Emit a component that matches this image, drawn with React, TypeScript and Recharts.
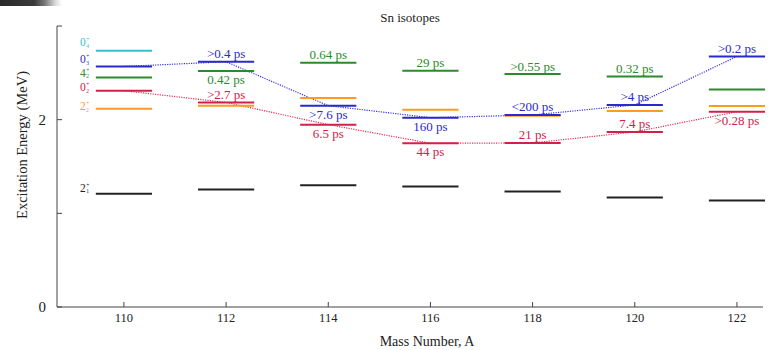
import React from "react";
import { ComposedChart, Line, XAxis, YAxis, ReferenceLine } from "recharts";

// Sn isotope level energies (MeV)
const masses = [110, 112, 114, 116, 118, 120, 122];
const e2p1 = [1.208, 1.254, 1.3, 1.286, 1.233, 1.169, 1.137];
const e2p2 = [2.117, 2.149, 2.231, 2.107, 2.043, 2.093, 2.146];
const e0p2 = [2.309, 2.184, 1.947, 1.748, 1.752, 1.869, 2.085];
const e4p2 = [2.451, 2.519, 2.607, 2.522, 2.487, 2.462, 2.323];
const e0p3 = [2.568, 2.618, 2.149, 2.021, 2.05, 2.157, 2.675];
const e0p4 = [2.735, null, null, null, null, null, null];

// lifetimes printed next to the levels
const tau0p2 = [null, ">2.7 ps", "6.5 ps", "44 ps", "21 ps", "7.4 ps", ">0.28 ps"];
const tau4p2 = [null, "0.42 ps", "0.64 ps", "29 ps", ">0.55 ps", "0.32 ps", null];
const tau0p3 = [null, ">0.4 ps", ">7.6 ps", "160 ps", "<200 ps", ">4 ps", ">0.2 ps"];

const xTicks = [110, 112, 114, 116, 118, 120, 122];
const yTicks = [0, 1, 2, 3];
const yLabelled = [0, 2];

const HALF = 0.55;
const FONT = "'Liberation Serif', 'DejaVu Serif', serif";

type State = {
  n: string; sub: string; color: string; dy: number;
  energies: (number | null)[]; taus: (string | null)[] | null; below: number[];
};

// dy = baseline shift of the state name relative to its level line
const states: State[] = [
  { n: "2", sub: "1", color: "#222222", dy: -2, energies: e2p1, taus: null, below: [] },
  { n: "2", sub: "2", color: "#ff9a22", dy: 1.5, energies: e2p2, taus: null, below: [] },
  { n: "0", sub: "2", color: "#d2204a", dy: 0.5, energies: e0p2, taus: tau0p2, below: [114, 116, 122] },
  { n: "4", sub: "2", color: "#2b8a2b", dy: -0.8, energies: e4p2, taus: tau4p2, below: [112] },
  { n: "0", sub: "3", color: "#2a2acc", dy: -3, energies: e0p3, taus: tau0p3, below: [114, 116] },
  { n: "0", sub: "4", color: "#33bfd0", dy: -4.5, energies: e0p4, taus: null, below: [] },
];

const blueTrail = masses.map((a, i) => ({ a, e: e0p3[i] }));
const redTrail = masses.map((a, i) => ({ a, e: e0p2[i] }));

function LevelLabel(props: any) {
  const { viewBox, tau, below, color, state } = props;
  const vb = viewBox ?? props;
  const cx = vb.x + vb.width / 2;
  const y = vb.y;
  const b = state ? y + state.dy : y;
  return (
    <g>
      {tau && (
        <text x={cx} y={below ? y + 13 : y - 3.5} textAnchor="middle" fill={color} fontSize={13} fontFamily={FONT}>
          {tau}
        </text>
      )}
      {state && (
        <g fill={color} fontFamily={FONT}>
          <text x={vb.x - 10} y={b} textAnchor="end" fontSize={11.5}>{state.n}</text>
          <text x={vb.x - 9.5} y={b - 5} fontSize={5.5}>+</text>
          <text x={vb.x - 9.5} y={b + 1.5} fontSize={5.5}>{state.sub}</text>
        </g>
      )}
    </g>
  );
}

function YTick({ x, y, payload }: any) {
  return (
    <g>
      <line x1={x} x2={x + 5} y1={y} y2={y} stroke="#444" strokeWidth={1} />
      {yLabelled.includes(payload.value) && (
        <text x={x - 11} y={y + 5} textAnchor="end" fontSize={15} fill="#222" fontFamily={FONT}>
          {payload.value}
        </text>
      )}
    </g>
  );
}

function XTick({ x, y, payload }: any) {
  return (
    <g>
      <line x1={x} x2={x} y1={y} y2={y - 5} stroke="#444" strokeWidth={1} />
      <text x={x} y={y + 15} textAnchor="middle" fontSize={12.5} fill="#222" fontFamily={FONT}>
        {payload.value}
      </text>
    </g>
  );
}

export default function App() {
  return (
    <div style={{ position: "absolute", left: 0, top: 0, width: 769, height: 350, background: "#fff", fontFamily: FONT }}>
      <div style={{ position: "absolute", left: 0, top: 0, width: 62, height: 6,
        background: "linear-gradient(90deg, #2a2a2a 0%, #3a3a3a 55%, #777 72%, #ddd 90%, #fff 100%)" }} />
      <div style={{ position: "absolute", left: 310, width: 200, top: 10, textAlign: "center", fontSize: 13, color: "#222" }}>
        Sn isotopes
      </div>
      <ComposedChart width={769} height={350} margin={{ top: 26, right: 6, left: 0, bottom: 0 }}>
        <XAxis
          dataKey="a" type="number" domain={[108.69, 122.51]} ticks={xTicks} allowDataOverflow
          height={43} tickSize={0} tickMargin={0} tickLine={false} tick={<XTick />}
          axisLine={{ stroke: "#444", strokeWidth: 1 }}
          label={(p: any) => (
            <text x={p.viewBox.x + 370} y={p.viewBox.y + 39} textAnchor="middle" fontSize={14} fill="#222" fontFamily={FONT}>
              Mass Number,  A
            </text>
          )}
        />
        <YAxis
          type="number" domain={[0, 3]} ticks={yTicks} allowDataOverflow width={57}
          tickSize={0} tickMargin={0} tickLine={false} tick={<YTick />}
          axisLine={{ stroke: "#444", strokeWidth: 1 }}
          label={(p: any) => (
            <text transform={`translate(27, ${p.viewBox.y + 119}) rotate(-90)`} textAnchor="middle"
              fontSize={14.5} fill="#222" fontFamily={FONT}>
              Excitation Energy (MeV)
            </text>
          )}
        />
        <Line data={blueTrail} dataKey="e" type="linear" stroke="#3636d8" strokeWidth={1.2}
          strokeDasharray="1.2 1.2" dot={false} activeDot={false} isAnimationActive={false} />
        <Line data={redTrail} dataKey="e" type="linear" stroke="#e0305a" strokeWidth={1.2}
          strokeDasharray="1.2 1.2" dot={false} activeDot={false} isAnimationActive={false} />
        {states.flatMap((s, si) =>
          masses.map((a, i) => {
            const e = s.energies[i];
            if (e == null) return null;
            const tau = s.taus ? s.taus[i] : null;
            return (
              <ReferenceLine
                key={`${si}-${a}`}
                segment={[{ x: a - HALF, y: e }, { x: a + HALF, y: e }]}
                stroke={s.color}
                strokeWidth={2}
                ifOverflow="visible"
                label={(p: any) => (
                  <LevelLabel {...p} tau={tau} below={s.below.includes(a)} color={s.color}
                    state={a === masses[0] ? s : null} />
                )}
              />
            );
          })
        )}
      </ComposedChart>
    </div>
  );
}
